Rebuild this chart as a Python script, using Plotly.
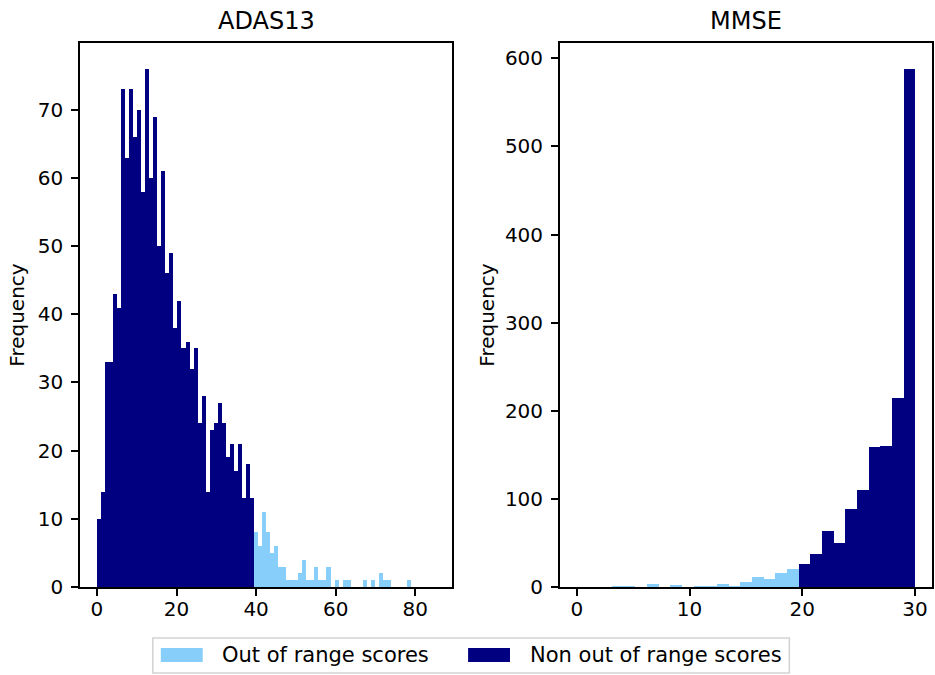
import numpy as np
import plotly.graph_objects as go
from plotly.subplots import make_subplots

# ---------------- data ----------------
# ADAS13 histogram: 84 equal-width bins spanning 0 .. 85
adas_bin_start = 0.0
adas_bin_end = 85.0
adas_n_bins = 84
adas_non_out_of_range = [10, 14, 33, 33, 43, 41, 73, 63, 73, 66, 70, 58, 76, 60, 69,
                         50, 61, 46, 49, 38, 42, 35, 36, 32, 35, 24, 28, 14, 23, 24,
                         27, 24, 19, 21, 17, 21, 13, 18, 13]
adas_out_of_range = [8, 6, 11, 8, 5, 6, 3, 3, 1, 1, 1, 2, 4, 1, 1, 3, 1, 1, 3, 0,
                     1, 0, 1, 1, 0, 0, 0, 1, 0, 1, 0, 2, 1, 1, 0, 0, 0, 0, 1, 0,
                     0, 0, 0, 0, 0]

# MMSE histogram: 29 equal-width bins spanning 0 .. 30
mmse_bin_start = 0.0
mmse_bin_end = 30.0
mmse_n_bins = 29
mmse_out_of_range = [0, 0, 0, 1, 1, 0, 3, 0, 2, 0, 1, 1, 3, 1, 6, 11, 9, 16, 21]
mmse_non_out_of_range = [26, 38, 63, 50, 88, 110, 159, 160, 214, 588]

titles = ["ADAS13", "MMSE"]
legend_labels = ["Out of range scores", "Non out of range scores"]
adas_xticks = [0, 20, 40, 60, 80]
adas_yticks = [0, 10, 20, 30, 40, 50, 60, 70]
mmse_xticks = [0, 10, 20, 30]
mmse_yticks = [0, 100, 200, 300, 400, 500, 600]

# ---------------- styles ----------------
LIGHT = "#87CEFA"
DARK = "#000080"
FONT = "DejaVu Sans"
W, H = 935, 675
ML, MR, MT, MB = 80, 1, 43, 88
PW = W - ML - MR
PH = H - MT - MB


def px_to_paper_x(px):
    return (px - ML) / PW


def px_to_paper_y(py):
    return (H - MB - py) / PH


def bins(start, end, n):
    edges = np.linspace(start, end, n + 1)
    return (edges[:-1] + edges[1:]) / 2, (end - start) / n


adas_centers, adas_w = bins(adas_bin_start, adas_bin_end, adas_n_bins)
mmse_centers, mmse_w = bins(mmse_bin_start, mmse_bin_end, mmse_n_bins)

n_adas_in = len(adas_non_out_of_range)
n_mmse_out = len(mmse_out_of_range)

fig = make_subplots(rows=1, cols=2)

# ADAS13: low scores are in range (dark), high scores out of range (light)
fig.add_trace(go.Bar(x=adas_centers[n_adas_in:], y=adas_out_of_range, width=adas_w,
                     marker=dict(color=LIGHT, line=dict(width=0)),
                     name=legend_labels[0], showlegend=False), row=1, col=1)
fig.add_trace(go.Bar(x=adas_centers[:n_adas_in], y=adas_non_out_of_range, width=adas_w,
                     marker=dict(color=DARK, line=dict(width=0)),
                     name=legend_labels[1], showlegend=False), row=1, col=1)
# MMSE: low scores out of range (light), high scores in range (dark)
fig.add_trace(go.Bar(x=mmse_centers[:n_mmse_out], y=mmse_out_of_range, width=mmse_w,
                     marker=dict(color=LIGHT, line=dict(width=0)),
                     name=legend_labels[0], showlegend=False), row=1, col=2)
fig.add_trace(go.Bar(x=mmse_centers[n_mmse_out:], y=mmse_non_out_of_range, width=mmse_w,
                     marker=dict(color=DARK, line=dict(width=0)),
                     name=legend_labels[1], showlegend=False), row=1, col=2)

axis_common = dict(showline=True, mirror=True, linecolor="black", linewidth=1.6,
                   ticks="outside", ticklen=7, tickwidth=1.6, tickcolor="black",
                   showgrid=False, zeroline=False,
                   tickfont=dict(family=FONT, size=20, color="black"))

left_dom = [0, px_to_paper_x(453)]
right_dom = [px_to_paper_x(561), 1.0]

adas_max = max(adas_non_out_of_range + adas_out_of_range)
mmse_max = max(mmse_non_out_of_range + mmse_out_of_range)
adas_margin = 0.05 * (adas_bin_end - adas_bin_start)
mmse_margin = 0.05 * (mmse_bin_end - mmse_bin_start)

fig.update_xaxes(axis_common, domain=left_dom, tickvals=adas_xticks,
                 range=[adas_bin_start - adas_margin, adas_bin_end + adas_margin],
                 ticklabelstandoff=-4, row=1, col=1)
fig.update_xaxes(axis_common, domain=right_dom, tickvals=mmse_xticks,
                 range=[mmse_bin_start - mmse_margin, mmse_bin_end + mmse_margin],
                 ticklabelstandoff=-4, row=1, col=2)
fig.update_yaxes(axis_common, tickvals=adas_yticks, range=[0, adas_max * 1.05],
                 ticklabelstandoff=4,
                 title=dict(text="Frequency", font=dict(family=FONT, size=20, color="black"),
                            standoff=8), row=1, col=1)
fig.update_yaxes(axis_common, tickvals=mmse_yticks, range=[0, mmse_max * 1.05],
                 ticklabelstandoff=4,
                 title=dict(text="Frequency", font=dict(family=FONT, size=20, color="black"),
                            standoff=5), row=1, col=2)

# subplot titles
annotations = []
for dom, t in zip([left_dom, right_dom], titles):
    annotations.append(dict(text=t, x=(dom[0] + dom[1]) / 2, y=1, xref="paper", yref="paper",
                            xanchor="center", yanchor="bottom", yshift=6, showarrow=False,
                            font=dict(family=FONT, size=24, color="black")))

# figure legend (matplotlib-style frame with patch handles)
shapes = []
bx0, by0, bx1, by1 = 153, 638, 791, 673
shapes.append(dict(type="rect", xref="paper", yref="paper",
                   x0=px_to_paper_x(bx0), x1=px_to_paper_x(bx1),
                   y0=px_to_paper_y(by0), y1=px_to_paper_y(by1),
                   line=dict(color="#d4d4d4", width=1.6), fillcolor="rgba(255,255,255,0.8)"))
items = [(LIGHT, 161, 203, 220, legend_labels[0]), (DARK, 469, 511, 529, legend_labels[1])]
for col, hx0, hx1, tx, lab in items:
    shapes.append(dict(type="rect", xref="paper", yref="paper",
                       x0=px_to_paper_x(hx0), x1=px_to_paper_x(hx1),
                       y0=px_to_paper_y(648), y1=px_to_paper_y(662),
                       line=dict(width=0), fillcolor=col))
    annotations.append(dict(text=lab, x=px_to_paper_x(tx), y=px_to_paper_y(655),
                            xref="paper", yref="paper", xanchor="left", yanchor="middle",
                            showarrow=False, font=dict(family=FONT, size=21, color="black")))

fig.update_layout(width=W, height=H, margin=dict(l=ML, r=MR, t=MT, b=MB),
                  paper_bgcolor="white", plot_bgcolor="white", barmode="overlay",
                  bargap=0, showlegend=False, annotations=annotations, shapes=shapes,
                  font=dict(family=FONT, color="black"))

# remove the page's default body margin so the 935x675 figure fills the window exactly
fig.write_html("out.html", config={"displayModeBar": False},
               post_script="document.body.style.margin='0';")
